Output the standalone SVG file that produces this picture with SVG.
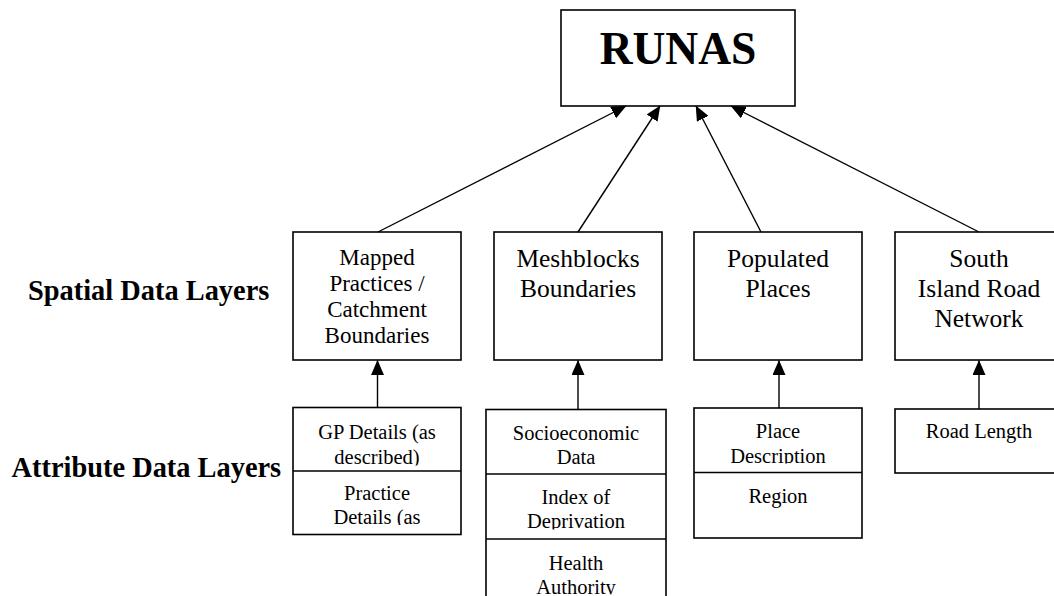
<svg xmlns="http://www.w3.org/2000/svg" width="1054" height="596" viewBox="0 0 1054 596">
  <defs>
    <style>
      .box { fill: #fff; stroke: #000; stroke-width: 1.6; }
      .div { stroke: #000; stroke-width: 1.6; }
      .conn { stroke: #000; stroke-width: 1.4; fill: none; }
      .t { font-family: "Liberation Serif", "Times New Roman", serif; fill: #000; text-anchor: middle; }
      .big { font-size: 25.5px; }
      .mid { font-size: 23px; }
      .sm { font-size: 20.5px; }
      .lbl { font-family: "Liberation Serif", "Times New Roman", serif; font-weight: bold; font-size: 28.4px; fill: #000; }
      .title { font-family: "Liberation Serif", "Times New Roman", serif; font-weight: bold; font-size: 45.5px; fill: #000; text-anchor: middle; }
    </style>
    <marker id="ah" markerUnits="userSpaceOnUse" markerWidth="15" markerHeight="13" viewBox="0 0 15 13" refX="14.5" refY="6.5" orient="auto">
      <path d="M0,0 L15,6.5 L0,13 z" fill="#000"/>
    </marker>
    <clipPath id="c-gp1"><rect x="293" y="408" width="168" height="57.5"/></clipPath>
    <clipPath id="c-gp2"><rect x="293" y="472" width="168" height="53"/></clipPath>
    <clipPath id="c-so1"><rect x="486" y="410" width="180" height="55"/></clipPath>
    <clipPath id="c-so2"><rect x="486" y="475" width="180" height="54.5"/></clipPath>
    <clipPath id="c-so3"><rect x="486" y="540" width="180" height="54.5"/></clipPath>
    <clipPath id="c-pl1"><rect x="694" y="409" width="168" height="54.5"/></clipPath>
  </defs>

  <rect x="0" y="0" width="1054" height="596" fill="#fff"/>

  <!-- Row labels -->
  <text class="lbl" x="28" y="300">Spatial Data Layers</text>
  <text class="lbl" x="11.5" y="477">Attribute Data Layers</text>

  <!-- Top node -->
  <g id="runas">
    <rect class="box" x="561" y="10" width="234" height="96"/>
    <text class="title" x="678" y="64">RUNAS</text>
  </g>

  <!-- Spatial data layers -->
  <g id="mapped-practices">
    <rect class="box" x="293" y="232" width="168" height="128"/>
    <text class="t mid" x="377" y="265">Mapped</text>
    <text class="t mid" x="377" y="291">Practices /</text>
    <text class="t mid" x="377" y="317">Catchment</text>
    <text class="t mid" x="377" y="343">Boundaries</text>
  </g>
  <g id="meshblocks">
    <rect class="box" x="494" y="232" width="168" height="128"/>
    <text class="t big" x="578" y="267">Meshblocks</text>
    <text class="t big" x="578" y="297">Boundaries</text>
  </g>
  <g id="populated-places">
    <rect class="box" x="694" y="232" width="168" height="128"/>
    <text class="t big" x="778" y="267">Populated</text>
    <text class="t big" x="778" y="297">Places</text>
  </g>
  <g id="road-network">
    <rect class="box" x="895" y="232" width="168" height="128"/>
    <text class="t big" x="979" y="267">South</text>
    <text class="t big" x="979" y="297">Island Road</text>
    <text class="t big" x="979" y="327">Network</text>
  </g>

  <!-- Attribute data layers -->
  <g id="gp-attributes">
    <rect class="box" x="293" y="407.5" width="168" height="127"/>
    <line class="div" x1="293" y1="471" x2="461" y2="471"/>
    <g clip-path="url(#c-gp1)">
      <text class="t sm" x="377" y="438.5">GP Details (as</text>
      <text class="t sm" x="377" y="464">described)</text>
    </g>
    <g clip-path="url(#c-gp2)">
      <text class="t sm" x="377" y="500">Practice</text>
      <text class="t sm" x="377" y="523.5">Details (as</text>
    </g>
  </g>
  <g id="meshblock-attributes">
    <rect class="box" x="486" y="409.5" width="180" height="200"/>
    <line class="div" x1="486" y1="474" x2="666" y2="474"/>
    <line class="div" x1="486" y1="539" x2="666" y2="539"/>
    <g clip-path="url(#c-so1)">
      <text class="t sm" x="576" y="439.5">Socioeconomic</text>
      <text class="t sm" x="576" y="463.5">Data</text>
    </g>
    <g clip-path="url(#c-so2)">
      <text class="t sm" x="576" y="504">Index of</text>
      <text class="t sm" x="576" y="528">Deprivation</text>
    </g>
    <g clip-path="url(#c-so3)">
      <text class="t sm" x="576" y="569.5">Health</text>
      <text class="t sm" x="576" y="593.5">Authority</text>
    </g>
  </g>
  <g id="place-attributes">
    <rect class="box" x="694" y="408" width="168" height="130"/>
    <line class="div" x1="694" y1="472.5" x2="862" y2="472.5"/>
    <g clip-path="url(#c-pl1)">
      <text class="t sm" x="778" y="438">Place</text>
      <text class="t sm" x="778" y="462.5">Description</text>
    </g>
    <text class="t sm" x="778" y="503">Region</text>
  </g>
  <g id="road-attributes">
    <rect class="box" x="895" y="409" width="168" height="64"/>
    <text class="t sm" x="979" y="438">Road Length</text>
  </g>

  <!-- Connectors -->
  <g id="connectors">
    <line class="conn" x1="378" y1="232" x2="626" y2="106" marker-end="url(#ah)"/>
    <line class="conn" x1="578" y1="232" x2="660" y2="106" marker-end="url(#ah)"/>
    <line class="conn" x1="761" y1="232" x2="696" y2="106" marker-end="url(#ah)"/>
    <line class="conn" x1="979" y1="232" x2="731" y2="106" marker-end="url(#ah)"/>
    <line class="conn" x1="377.5" y1="407.5" x2="377.5" y2="360.5" marker-end="url(#ah)"/>
    <line class="conn" x1="578" y1="409.5" x2="578" y2="360.5" marker-end="url(#ah)"/>
    <line class="conn" x1="779" y1="408" x2="779" y2="360.5" marker-end="url(#ah)"/>
    <line class="conn" x1="979" y1="409" x2="979" y2="360.5" marker-end="url(#ah)"/>
  </g>
</svg>
